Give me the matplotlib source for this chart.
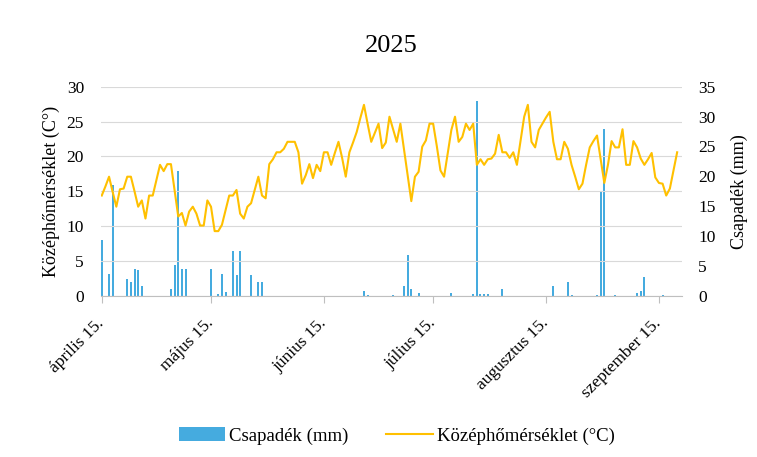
import pandas as pd
import matplotlib
matplotlib.use('Agg')
import matplotlib.pyplot as plt

plt.rcParams['font.family'] = ['Liberation Serif', 'DejaVu Serif']

""" ADATOK """
kezdo_nap = '2025-04-15'

# napi középhőmérséklet (°C), április 15-től
homerseklet = [
    14.4, 15.7, 17.1, 14.9, 12.8, 15.3, 15.4, 17.1, 17.1, 15.0,
    12.8, 13.7, 11.1, 14.4, 14.4, 16.6, 18.8, 17.9, 18.9, 18.9,
    15.1, 11.4, 11.9, 10.1, 12.1, 12.8, 11.8, 10.1, 10.1, 13.7,
    12.8, 9.3, 9.3, 10.2, 12.3, 14.4, 14.4, 15.2, 11.8, 11.1,
    12.8, 13.3, 15.2, 17.1, 14.4, 14.0, 18.9, 19.6, 20.6, 20.6,
    21.1, 22.1, 22.1, 22.1, 20.6, 16.1, 17.3, 18.9, 16.9, 18.8,
    17.9, 20.6, 20.6, 18.8, 20.5, 22.1, 19.8, 17.1, 20.6, 22.0,
    23.5, 25.5, 27.4, 24.7, 22.1, 23.4, 24.7, 21.2, 22.0, 25.7,
    23.9, 22.1, 24.7, 21.0, 17.3, 13.6, 17.1, 17.8, 21.4, 22.3,
    24.7, 24.7, 21.5, 18.0, 17.1, 20.5, 23.8, 25.7, 22.1, 22.8,
    24.7, 23.8, 24.7, 18.8, 19.6, 18.8, 19.6, 19.7, 20.4, 23.1,
    20.6, 20.6, 19.8, 20.6, 18.8, 22.3, 25.7, 27.4, 22.1, 21.3,
    23.8, 24.7, 25.6, 26.4, 22.1, 19.6, 19.6, 22.1, 21.1, 18.8,
    17.1, 15.3, 16.1, 18.8, 21.3, 22.2, 23.0, 19.6, 16.2, 18.8,
    22.2, 21.3, 21.3, 23.9, 18.8, 18.8, 22.2, 21.3, 19.7, 18.8,
    19.6, 20.5, 17.0, 16.2, 16.1, 14.4, 15.4, 18.0, 20.6,
]

# napi csapadék (mm)
csapadek = [
    9.3, 0, 3.6, 18.6, 0, 0, 0, 2.8, 2.3, 4.5,
    4.3, 1.7, 0, 0, 0, 0, 0, 0, 0, 1.1,
    5.2, 20.9, 4.5, 4.5, 0, 0, 0, 0, 0, 0,
    4.5, 0, 0.4, 3.6, 0.6, 0, 7.5, 3.5, 7.5, 0,
    0, 3.5, 0, 2.3, 2.3, 0, 0, 0, 0, 0,
    0, 0, 0, 0, 0, 0, 0, 0, 0, 0,
    0, 0, 0, 0, 0, 0, 0, 0, 0, 0,
    0, 0, 0.8, 0.2, 0, 0, 0, 0, 0, 0,
    0.2, 0, 0, 1.7, 6.9, 1.1, 0, 0.5, 0, 0,
    0, 0, 0, 0, 0, 0, 0.5, 0, 0, 0,
    0, 0, 0.3, 32.6, 0.3, 0.3, 0.3, 0, 0, 0,
    1.1, 0, 0, 0, 0, 0, 0, 0, 0, 0,
    0, 0, 0, 0, 1.7, 0, 0, 0, 2.3, 0.2,
    0, 0, 0, 0, 0, 0, 0.2, 17.4, 27.9, 0,
    0, 0.2, 0, 0, 0, 0, 0, 0.5, 0.8, 3.2,
    0, 0, 0, 0, 0.2, 0, 0, 0, 0,
]

tick_datumok = ['2025-04-15', '2025-05-15', '2025-06-15',
                '2025-07-15', '2025-08-15', '2025-09-15']
tick_feliratok = ['április 15.', 'május 15.', 'június 15.',
                  'július 15.', 'augusztus 15.', 'szeptember 15.']

datumok = pd.date_range(kezdo_nap, periods=len(homerseklet), freq='D')

""" ABRA """
fig = plt.figure(figsize=(7.57, 4.57), dpi=100)
ax = fig.add_axes([100.7 / 757, 1 - 296 / 457, 581 / 757, 209.3 / 457])
ax2 = ax.twinx()

# csapadék oszlopok (jobb tengely)
oszlop = ax2.bar(datumok, csapadek, width=0.55, color='#45ABDF', label='Csapadék (mm)')
ax2.set_ylim(0, 35)
ax2.set_yticks(range(0, 36, 5))

# hőmérséklet vonal (bal tengely)
vonal, = ax.plot(datumok, homerseklet, color='#FFC000', lw=1.5,
                 label='Középhőmérséklet (°C)')
ax.set_ylim(0, 30)
ax.set_yticks(range(0, 31, 5))
ax.set_zorder(ax2.get_zorder() + 1)
ax.patch.set_visible(False)

ax.set_xlim(datumok[0] - pd.Timedelta(hours=7), datumok[0] + pd.Timedelta(days=159.25))
ax.set_xticks(pd.to_datetime(tick_datumok))
ax.set_xticklabels(tick_feliratok, rotation=45, ha='right', va='center',
                   rotation_mode='anchor', fontsize=12.5)

ax.grid(axis='y', color='#D9D9D9', lw=0.8)
for s in ['top', 'left', 'right']:
    ax.spines[s].set_visible(False)
    ax2.spines[s].set_visible(False)
ax2.spines['bottom'].set_visible(False)
ax.spines['bottom'].set_color('#BFBFBF')

ax.tick_params(axis='x', length=5, color='#BFBFBF', pad=13)
ax.tick_params(axis='y', length=0, labelsize=12.5, pad=12)
ax2.tick_params(axis='y', length=0, labelsize=12.5, pad=12)

ax.set_ylabel('Középhőmérséklet (C°)', fontsize=13, labelpad=5)
ax2.set_ylabel('Csapadék (mm)', fontsize=13, labelpad=11)

fig.text(0.5 * (100.7 + 681.7) / 757, 1 - 46 / 457, '2025', ha='center', va='center', fontsize=19)

fig.legend(handles=[oszlop, vonal], loc='center', bbox_to_anchor=(396.5 / 757, 0.046),
           ncol=2, frameon=False, fontsize=13.5, handlelength=2.5, columnspacing=2.0,
           handletextpad=0.2)

plt.savefig('out.png', dpi=100)
